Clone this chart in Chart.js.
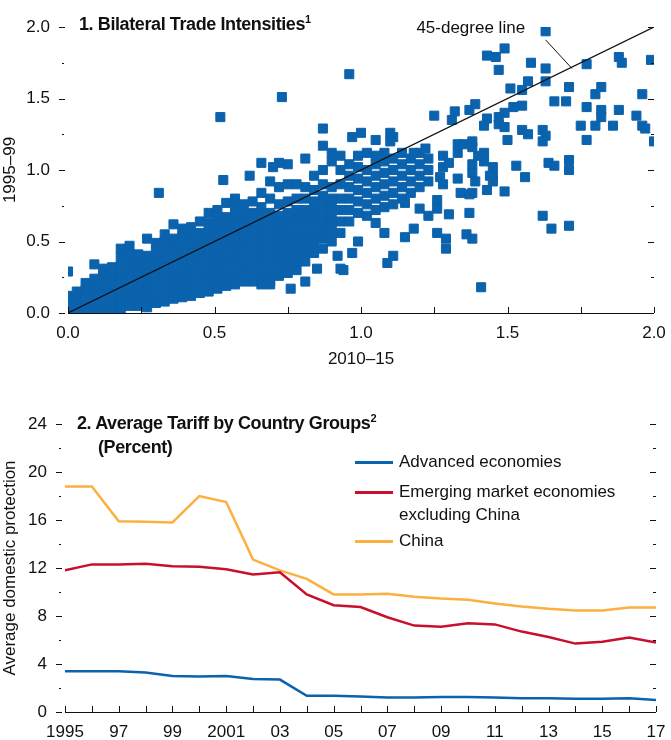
<!DOCTYPE html>
<html lang="en">
<head>
<meta charset="UTF-8">
<title>Trade Intensities and Tariffs</title>
<style>
  body { margin: 0; background: #fff; font-family: "Liberation Sans Narrow", "Liberation Sans", sans-serif; }
  #wrap { position: relative; width: 671px; height: 740px; }
  canvas { position: absolute; left: 0; }
  .title { position: absolute; font-weight: bold; font-size: 18px; color: #111; letter-spacing: -0.4px; }
  .title sup { font-size: 11px; }
  .leg { position: absolute; left: 355px; font-size: 17px; color: #111; }
  .leg span.sw { display: inline-block; width: 38px; height: 3px; vertical-align: middle; margin-right: 6px; }
</style>
</head>
<body>
<div id="wrap">
  <canvas id="scatter" width="671" height="370" style="top:0"></canvas>
  <canvas id="lines" width="671" height="340" style="top:400px"></canvas>
  <div class="title" style="left:79px; top:13px;">1. Bilateral Trade Intensities<sup>1</sup></div>
  <div class="title" style="left:77px; top:412px;">2. Average Tariff by Country Groups<sup>2</sup></div>
  <div class="title" style="left:98px; top:437px;">(Percent)</div>
  <div class="leg" style="top:452px;"><span class="sw" style="background:#0b62ad"></span>Advanced economies</div>
  <div class="leg" style="top:480px; line-height:23px;"><span class="sw" style="background:#c8102e"></span>Emerging market economies<br><span style="margin-left:44px">excluding China</span></div>
  <div class="leg" style="top:531px;"><span class="sw" style="background:#fbb040"></span>China</div>
</div>
<script src="https://cdn.jsdelivr.net/npm/chart.js"></script>
<script>
// ---- Panel 1 data: dense cloud read column by column (x, list of y) ----
const cloudX = [0.00,0.03,0.06,0.09,0.12,0.15,0.18,0.21,0.24,0.27,0.30,0.33,0.36,0.39,0.42,0.45,0.48,0.51,0.54,0.57,0.60,0.63,0.66,0.69,0.72,0.75,0.78,0.81,0.84,0.87,0.90,0.93,0.96,0.99,1.02,1.05,1.08,1.11,1.14,1.17,1.20,1.23,1.28,1.33,1.38,1.42,1.45];
const cloudY = [
  [0.01,0.05,0.09,0.12],
  [0.0,0.05,0.1,0.15],
  [0.0,0.05,0.1,0.16,0.21],
  [0.01,0.06,0.12,0.18,0.24,0.34],
  [0.02,0.08,0.14,0.2,0.26,0.31],
  [0.02,0.08,0.14,0.2,0.26,0.32],
  [0.03,0.09,0.15,0.21,0.27,0.33,0.39,0.45],
  [0.05,0.11,0.17,0.23,0.29,0.35,0.41,0.47],
  [0.05,0.11,0.17,0.23,0.29,0.35,0.41],
  [0.04,0.1,0.16,0.22,0.28,0.34,0.4,0.52],
  [0.07,0.13,0.19,0.25,0.31,0.37,0.43,0.49],
  [0.08,0.14,0.2,0.26,0.32,0.38,0.44,0.5,0.55],
  [0.1,0.16,0.22,0.28,0.34,0.4,0.46,0.52,0.62],
  [0.11,0.17,0.23,0.29,0.35,0.41,0.47,0.53,0.59],
  [0.12,0.18,0.24,0.3,0.36,0.42,0.48,0.54,0.6],
  [0.14,0.2,0.26,0.32,0.38,0.44,0.5,0.56,0.64],
  [0.15,0.21,0.27,0.33,0.39,0.45,0.51,0.57,0.63,0.7],
  [0.17,0.23,0.29,0.35,0.41,0.47,0.53,0.59,0.65,0.72],
  [0.19,0.25,0.31,0.37,0.43,0.49,0.55,0.61,0.67,0.77],
  [0.2,0.26,0.32,0.38,0.44,0.5,0.56,0.62,0.68,0.74,0.8],
  [0.22,0.28,0.34,0.4,0.46,0.52,0.58,0.64,0.7,0.76],
  [0.22,0.28,0.34,0.4,0.46,0.52,0.58,0.64,0.7,0.78],
  [0.2,0.26,0.32,0.38,0.44,0.5,0.56,0.62,0.68,0.74,0.84],
  [0.22,0.28,0.34,0.4,0.46,0.52,0.58,0.64,0.7,0.8,0.92],
  [0.26,0.32,0.38,0.44,0.5,0.56,0.62,0.68,0.76,0.88,1.05],
  [0.28,0.34,0.4,0.46,0.52,0.58,0.64,0.7,0.78,0.9,1.04],
  [0.3,0.36,0.42,0.48,0.54,0.6,0.66,0.72,0.8,0.9],
  [0.36,0.42,0.48,0.54,0.6,0.66,0.72,0.8,0.88,1.08],
  [0.42,0.48,0.54,0.6,0.66,0.72,0.78,0.86,0.96],
  [0.45,0.52,0.58,0.64,0.7,0.76,0.82,0.9,1.0],
  [0.5,0.56,0.62,0.68,0.74,0.8,0.88,1.06,1.12],
  [0.56,0.64,0.72,0.8,0.9,1.0,1.1],
  [0.64,0.72,0.8,0.88,0.96,1.04],
  [0.7,0.78,0.86,0.94,1.02,1.1],
  [0.68,0.76,0.84,0.92,1.0,1.12],
  [0.72,0.8,0.88,0.96,1.04,1.1],
  [0.74,0.82,0.9,0.98,1.06,1.12],
  [0.76,0.84,0.92,1.0,1.08],
  [0.8,0.88,0.96,1.04,1.12],
  [0.84,0.92,1.0,1.08],
  [0.88,0.96,1.04,1.12],
  [0.92,1.0,1.08],
  [0.9,1.02,1.1],
  [0.94,1.12,1.18],
  [0.98,1.04,1.16,1.2],
  [1.06,1.12],
  [0.96,0.92]
];
// scattered points outside the cloud, [x, y]
const outliers = [
  [1.63,1.97],[1.49,1.85],[1.43,1.80],[1.46,1.79],[1.47,1.70],[0.96,1.67],[1.58,1.75],[1.63,1.71],[1.63,1.62],[1.57,1.62],
  [1.77,1.74],[1.88,1.79],[1.89,1.75],[1.99,1.77],[0.73,1.51],[0.52,1.37],[1.51,1.57],[1.55,1.56],[1.71,1.58],[1.82,1.58],
  [1.80,1.53],[1.96,1.53],[1.66,1.48],[1.70,1.48],[1.77,1.44],[1.82,1.42],[1.88,1.42],[1.94,1.38],[1.82,1.37],[1.86,1.31],
  [1.80,1.31],[1.75,1.31],[1.96,1.31],[1.97,1.29],[2.0,1.20],[1.77,1.21],[1.55,1.45],[1.52,1.44],[1.49,1.40],[1.47,1.37],
  [1.47,1.32],[1.49,1.30],[1.43,1.36],[1.39,1.46],[1.37,1.42],[1.32,1.41],[1.31,1.35],[1.25,1.38],[1.42,1.31],[1.55,1.28],
  [1.57,1.25],[1.62,1.28],[1.63,1.24],[1.62,1.20],[1.50,1.21],[0.87,1.29],[1.00,1.26],[0.97,1.23],[0.87,1.17],[1.10,1.26],
  [1.11,1.23],[1.05,1.21],[1.10,1.20],[1.53,1.03],[1.56,0.95],[1.64,1.05],[1.66,1.03],[1.71,1.07],[1.71,1.00],[1.49,0.85],
  [1.43,0.86],[1.38,0.84],[1.62,0.68],[1.65,0.59],[1.71,0.61],[0.31,0.84],[0.53,0.93],[0.62,0.96],[1.41,0.18],[1.09,0.35],
  [1.11,0.40],[0.99,0.50],[0.97,0.42],[0.92,0.40],[0.93,0.31],[0.94,0.30],[0.85,0.31],[0.81,0.22],[0.76,0.17],[0.69,0.20],
  [1.26,0.56],[1.29,0.52],[1.29,0.45],[1.36,0.55],[1.38,0.52],[1.37,0.70],[1.30,0.69],[1.26,0.79],[1.26,0.73],[1.23,0.68],
  [1.18,0.59],[1.15,0.53],[1.08,0.56],[1.05,0.63],[1.15,0.77],[1.20,0.73],[1.34,0.84],[1.37,0.83],[0.0,0.29],[1.45,1.02],
  [1.40,1.10],[1.35,1.18],[1.30,1.05],[1.44,0.96],[1.39,0.92],[1.27,0.95],[1.22,1.15],[1.18,1.12],[0.66,1.05],[0.70,1.02]
];
const diagLine = [[0,0],[2,2]];
const scatterTicks = [0, 0.5, 1.0, 1.5, 2.0];

// ---- Panel 2 data ----
const years = ['1995','97','99','2001','03','05','07','09','11','13','15','17'];
const yearValues = [1995,1996,1997,1998,1999,2000,2001,2002,2003,2004,2005,2006,2007,2008,2009,2010,2011,2012,2013,2014,2015,2016,2017];
const advanced = [3.4,3.4,3.4,3.3,3.0,2.95,3.0,2.75,2.7,1.35,1.35,1.3,1.2,1.2,1.25,1.25,1.2,1.15,1.15,1.1,1.1,1.15,1.0];
const emerging = [11.8,12.3,12.3,12.35,12.15,12.1,11.9,11.45,11.65,9.8,8.9,8.75,7.9,7.2,7.1,7.4,7.3,6.7,6.25,5.7,5.85,6.2,5.8];
const china = [18.8,18.8,15.9,15.85,15.8,18.0,17.5,12.7,11.8,11.1,9.8,9.8,9.85,9.6,9.45,9.35,9.05,8.8,8.6,8.45,8.45,8.7,8.7];

const FONT = '"Liberation Sans Narrow", "Liberation Sans", sans-serif';
Chart.defaults.font.family = FONT;
Chart.defaults.color = '#111';

// draws the little tick marks on the left, right and bottom edges
function tickPlugin(yMajor, yMinor, xTicks, extra) {
  return {
    id: 'ticks',
    afterDraw(chart) {
      const { ctx, chartArea: a, scales: { x, y } } = chart;
      ctx.save();
      ctx.strokeStyle = '#111';
      ctx.lineWidth = 1;
      ctx.beginPath();
      yMajor.forEach(v => {
        const py = Math.round(y.getPixelForValue(v)) + 0.5;
        ctx.moveTo(a.left - 9, py); ctx.lineTo(a.left - 3, py);
        ctx.moveTo(a.right - 6, py); ctx.lineTo(a.right, py);
      });
      yMinor.forEach(v => {
        const py = Math.round(y.getPixelForValue(v)) + 0.5;
        ctx.moveTo(a.left - 6, py); ctx.lineTo(a.left - 4, py);
        ctx.moveTo(a.right - 3, py); ctx.lineTo(a.right, py);
      });
      xTicks.forEach(v => {
        const px = Math.round(x.getPixelForValue(v)) + 0.5;
        ctx.moveTo(px, a.bottom); ctx.lineTo(px, a.bottom - 6);
      });
      ctx.moveTo(a.left, a.bottom + 0.5); ctx.lineTo(a.right, a.bottom + 0.5);
      ctx.stroke();
      if (extra) extra(chart);
      ctx.restore();
    }
  };
}

const cloudPoints = [];
cloudX.forEach((xv, i) => cloudY[i].forEach(yv => cloudPoints.push({ x: xv, y: yv })));
const outlierPoints = outliers.map(p => ({ x: p[0], y: p[1] }));

new Chart(document.getElementById('scatter'), {
  type: 'scatter',
  data: {
    datasets: [
      { data: cloudPoints.concat(outlierPoints), order: 2, pointStyle: 'rect', pointRadius: 6.4, backgroundColor: '#0b62ad', borderColor: '#0b62ad', borderWidth: 1 },
      { type: 'line', order: 1, data: diagLine.map(p => ({ x: p[0], y: p[1] })), borderColor: '#111', borderWidth: 1.2, pointRadius: 0 }
    ]
  },
  options: {
    responsive: false, animation: false,
    layout: { padding: { top: 27, right: 17, left: 0, bottom: 0 } },
    plugins: { legend: { display: false }, tooltip: { enabled: false } },
    scales: {
      x: {
        min: 0, max: 2,
        afterBuildTicks: s => { s.ticks = scatterTicks.map(v => ({ value: v })); },
        afterFit: s => { s.height = 57; },
        grid: { display: false }, border: { display: false },
        ticks: { font: { size: 17 }, padding: 2, callback: v => v.toFixed(1) },
        title: { display: true, text: '2010–15', font: { size: 17 }, padding: 0 }
      },
      y: {
        min: 0, max: 2,
        afterBuildTicks: s => { s.ticks = scatterTicks.map(v => ({ value: v })); },
        afterFit: s => { s.width = 68; },
        grid: { display: false }, border: { display: false },
        ticks: { font: { size: 17 }, padding: 10, callback: v => v.toFixed(1) },
        title: { display: true, text: '1995–99', font: { size: 17 }, padding: 0 }
      }
    }
  },
  plugins: [tickPlugin(scatterTicks, [0.25, 0.75, 1.25, 1.75], [0, 0.25, 0.5, 0.75, 1, 1.25, 1.5, 1.75, 2], chart => {
    const { ctx, scales: { x, y } } = chart;
    ctx.beginPath();
    ctx.moveTo(x.getPixelForValue(1.63), y.getPixelForValue(1.91));
    ctx.lineTo(x.getPixelForValue(1.72), y.getPixelForValue(1.71));
    ctx.stroke();
    ctx.font = '17px ' + FONT;
    ctx.fillStyle = '#111';
    ctx.textAlign = 'right';
    ctx.textBaseline = 'middle';
    ctx.fillText('45-degree line', x.getPixelForValue(1.56), y.getPixelForValue(1.99));
  })]
});

const tariffTicks = [0, 4, 8, 12, 16, 20, 24];
new Chart(document.getElementById('lines'), {
  type: 'line',
  data: {
    datasets: [
      { data: yearValues.map((v, i) => ({ x: v, y: advanced[i] })), borderColor: '#0b62ad', borderWidth: 2.5, pointRadius: 0 },
      { data: yearValues.map((v, i) => ({ x: v, y: emerging[i] })), borderColor: '#c8102e', borderWidth: 2.5, pointRadius: 0 },
      { data: yearValues.map((v, i) => ({ x: v, y: china[i] })), borderColor: '#fbb040', borderWidth: 2.5, pointRadius: 0 }
    ]
  },
  options: {
    responsive: false, animation: false,
    layout: { padding: { top: 24, right: 15, left: 0, bottom: 0 } },
    plugins: { legend: { display: false }, tooltip: { enabled: false } },
    scales: {
      x: {
        type: 'linear', min: 1995, max: 2017,
        afterBuildTicks: s => { s.ticks = years.map((t, i) => ({ value: 1995 + 2 * i })); },
        afterFit: s => { s.height = 28; },
        grid: { display: false }, border: { display: false },
        ticks: { font: { size: 17 }, padding: 2, callback: (v, i) => years[i] }
      },
      y: {
        min: 0, max: 24,
        afterBuildTicks: s => { s.ticks = tariffTicks.map(v => ({ value: v })); },
        afterFit: s => { s.width = 65; },
        grid: { display: false }, border: { display: false },
        ticks: { font: { size: 17 }, padding: 10 },
        title: { display: true, text: 'Average domestic protection', font: { size: 17 }, padding: 0 }
      }
    }
  },
  plugins: [tickPlugin(tariffTicks, [2, 6, 10, 14, 18, 22], yearValues, null)]
});
</script>
</body>
</html>
